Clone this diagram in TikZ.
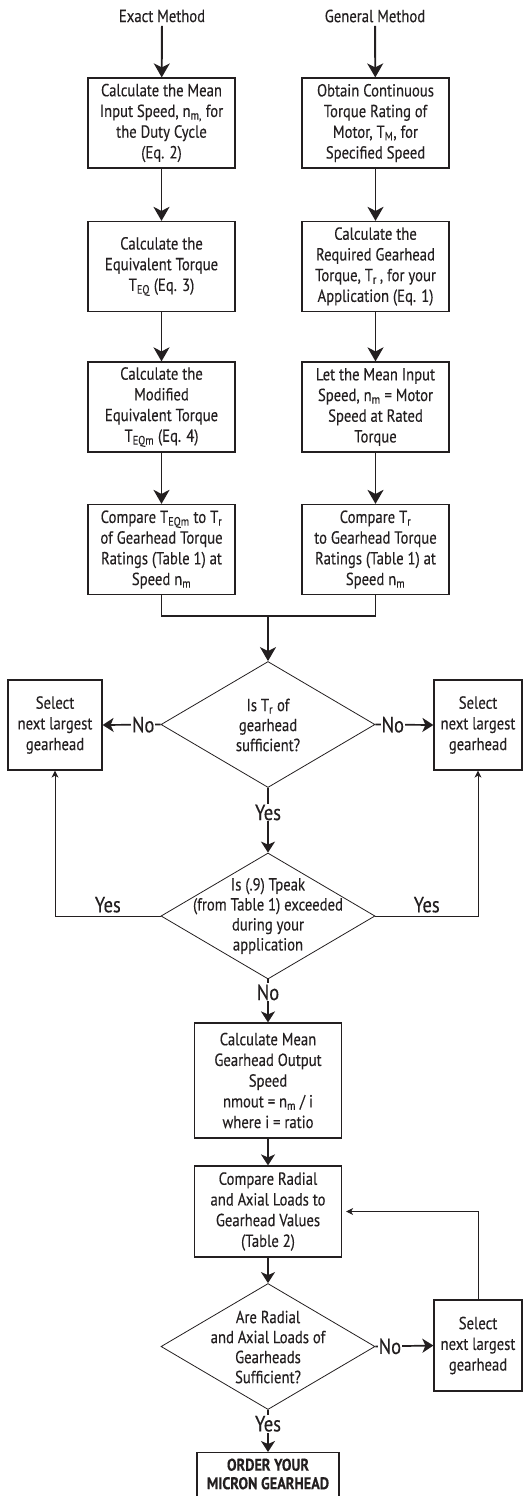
\documentclass[tikz,border=0pt]{standalone}
\usepackage{fontspec}
\setmainfont{PT Sans}[FakeStretch=0.84, FakeBold=0.3]
\usetikzlibrary{arrows.meta,shapes.geometric}
\definecolor{ink}{HTML}{231F20}
\begin{document}
\begin{tikzpicture}
[
    x=1pt, y=-1pt,
    every node/.style={text=ink, font=\fontsize{17.5}{20.7}\selectfont},
    box/.style={draw=ink, line width=1.2pt, align=center, inner sep=0pt, minimum width=147pt, minimum height=90pt},
    pick/.style={box, minimum width=94pt},
    decision/.style={draw=ink, diamond, line width=0.8pt, inner sep=0pt, minimum width=214pt, minimum height=126pt},
    ask/.style={align=center, font=\fontsize{17.5}{20}\selectfont},
    ans/.style={font=\fontsize{22}{24}\selectfont, fill=white, inner sep=1pt},
    side/.style={font=\fontsize{22}{24}\selectfont, above, inner sep=3pt},
    arr/.style={draw=ink, line width=1.9pt, -{Stealth[length=14pt, width=16pt, inset=4pt]}},
    arrm/.style={draw=ink, line width=1.7pt, -{Stealth[length=11pt, width=14pt, inset=3pt]}},
    arrt/.style={draw=ink, line width=0.9pt, -{Stealth[length=7pt, width=7pt, inset=2pt]}},
    link/.style={draw=ink, line width=1.2pt},
]
\useasboundingbox (0,0) rectangle (525,1496);
\node (exact) at (162,16) {Exact Method};
\node (general) at (375,16) {General Method};
\node [box] (ex1) at (161.5,123)
{Calculate the Mean\\Input Speed, n\textsubscript{m,} for\\the Duty Cycle\\(Eq. 2)};
\node [box] (ex2) at (161.5,266.5)
{Calculate the\\Equivalent Torque\\T\textsubscript{EQ} (Eq. 3)};
\node [box] (ex3) at (161.5,407)
{Calculate the\\Modified\\Equivalent Torque\\T\textsubscript{EQm} (Eq. 4)};
\node [box] (ex4) at (161.5,549.5)
{Compare T\textsubscript{EQm} to T\textsubscript{r}\\of Gearhead Torque\\Ratings (Table 1) at\\Speed n\textsubscript{m}};
\node [box] (ge1) at (375.5,123)
{Obtain Continuous\\Torque Rating of\\Motor, T\textsubscript{M}, for\\Specified Speed};
\node [box] (ge2) at (375.5,266.5)
{Calculate the\\Required Gearhead\\Torque, T\textsubscript{r}\,, for your\\Application (Eq. 1)};
\node [box] (ge3) at (375.5,407)
{Let the Mean Input\\Speed, n\textsubscript{m} = Motor\\Speed at Rated\\Torque};
\node [box] (ge4) at (375.5,549.5)
{Compare T\textsubscript{r}\\to Gearhead Torque\\Ratings (Table 1) at\\Speed n\textsubscript{m}};
\coordinate (jn) at (268,616);
\node [decision] (d1) at (268,724.5) {};
\node [ask] (d1t) at (268,725) {Is T\textsubscript{r} of\\gearhead\\sufficient?};
\node [pick] (p1) at (55,725) {Select\\next largest\\gearhead};
\node [pick, minimum width=88pt] (p2) at (478,725) {Select\\next largest\\gearhead};
\node [decision] (d2) at (268,916) {};
\node [ask] (d2t) at (268,916) {Is (.9) Tpeak\\(from Table 1) exceeded\\during your\\application};
\node [box, minimum height=115pt] (calc) at (268,1080.5)
{Calculate Mean\\Gearhead Output\\Speed\\nmout = n\textsubscript{m} / i\\where i = ratio};
\node [box, minimum height=91pt] (cmp) at (268,1211.5)
{Compare Radial\\and Axial Loads to\\Gearhead Values\\(Table 2)};
\node [decision] (d3) at (268,1346.5) {};
\node [ask] (d3t) at (268,1347) {Are Radial\\and Axial Loads of\\Gearheads\\Sufficient?};
\node [pick, minimum width=88pt, minimum height=91pt] (p3) at (478,1345.5) {Select\\next largest\\gearhead};
\node [box, anchor=north, minimum width=142pt, minimum height=64pt] (order) at (268,1452) {};
\node [align=center, font=\fontsize{17}{18.5}\selectfont\bfseries] (ordert) at (268,1474)
{ORDER YOUR\\MICRON GEARHEAD};
\draw [arr] (exact) -- (ex1);
\draw [arr] (ex1) -- (ex2);
\draw [arr] (ex2) -- (ex3);
\draw [arr] (ex3) -- (ex4);
\draw [arr] (general) -- (ge1);
\draw [arr] (ge1) -- (ge2);
\draw [arr] (ge2) -- (ge3);
\draw [arr] (ge3) -- (ge4);
\draw [link] (ex4.south) |- (jn) -| (ge4.south);
\draw [arr] (jn) -- (d1.north);
\draw [arrm] (d1.west) -- node [ans, pos=0.3] {No} (p1.east);
\draw [arrm] (d1.east) -- node [ans, pos=0.3] {No} (p2.west);
\draw [arrm] (d1.south) -- node [ans, pos=0.38] {Yes} (d2.north);
\draw [arrt] (d2.west) -- node [side] {Yes} (d2.west -| p1.south) -- (p1.south);
\draw [arrt] (d2.east) -- node [side] {Yes} (d2.east -| p2.south) -- (p2.south);
\draw [arrm] (d2.south) -- node [ans, pos=0.3] {No} (calc.north);
\draw [arrm] (calc) -- (cmp);
\draw [arrm] (cmp) -- (d3.north);
\draw [arrm] (d3.east) -- node [ans, pos=0.25] {No} (p3.west);
\draw [arrt, shorten >=4pt] (p3.north) |- (cmp.east);
\draw [arrm] (d3.south) -- node [ans, pos=0.33] {Yes} (order.north);
\end{tikzpicture}
\end{document}
